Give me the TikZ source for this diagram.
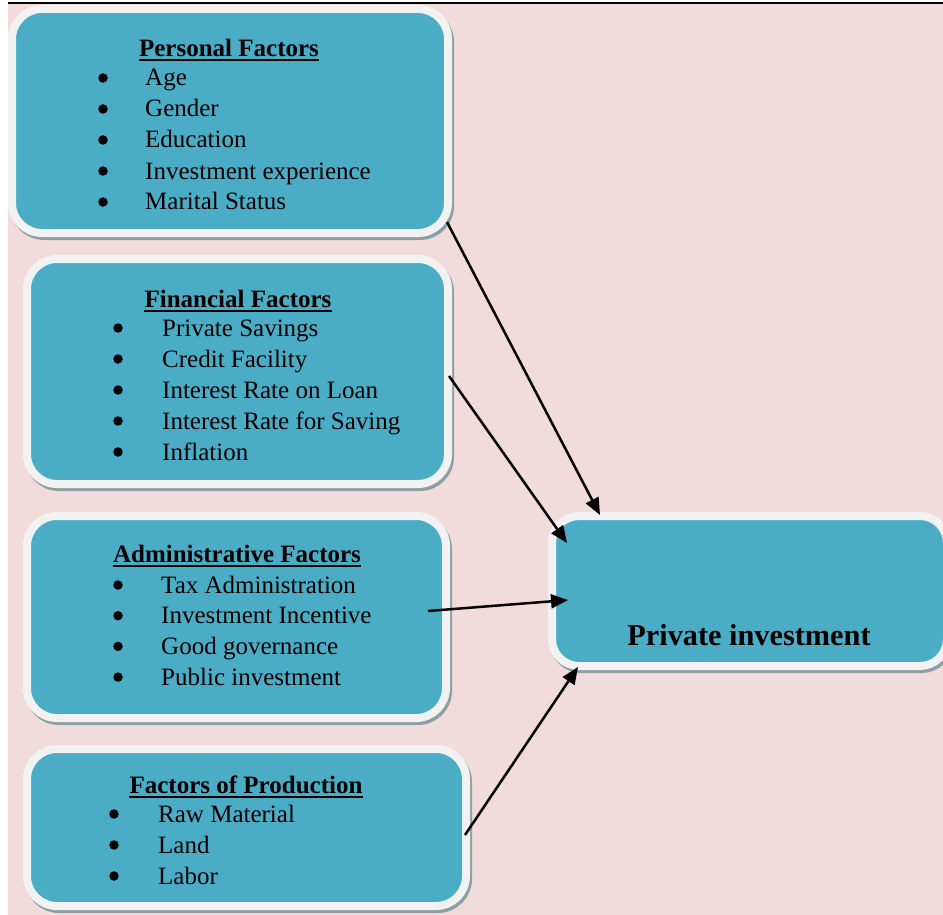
\documentclass[tikz,border=0pt]{standalone}
\usepackage{fontspec}
\setmainfont{Liberation Serif}
\usetikzlibrary{arrows.meta,shadows,calc}
\definecolor{bgpink}{HTML}{F2DCDB}
\definecolor{boxteal}{HTML}{4BACC6}
\definecolor{boxborder}{HTML}{F2F2F2}
\definecolor{shadowgray}{HTML}{8E9EA5}
\begin{document}
\begin{tikzpicture}[x=1pt,y=-1pt,
  factorbox/.style={rectangle, draw=boxborder, fill=boxteal, line width=8pt,
    rounded corners=30pt, inner sep=0pt, outer sep=0pt,
    general shadow={shadow xshift=2pt, shadow yshift=-3pt, draw=shadowgray, fill=shadowgray, line width=8pt}},
  headtxt/.style={anchor=base, inner sep=0pt, font=\fontsize{25}{31}\selectfont\bfseries},
  itemtxt/.style={anchor=base west, inner sep=0pt, font=\fontsize{25}{31}\selectfont},
  bul/.style={circle, fill=black, inner sep=0pt, minimum size=9.5pt},
  uline/.style={line width=2pt},
  conn/.style={line width=2.5pt, -{Triangle[length=17pt,width=14pt]}}
]
\useasboundingbox (0,0) rectangle (943,915);
\fill[bgpink] (8,4) rectangle (943,915);
\draw[line width=2pt] (8,3) -- (943,3);

% boxes
\node[factorbox, minimum width=436pt, minimum height=224pt] (b1) at (230,121) {};
\node[factorbox, minimum width=421pt, minimum height=225pt] (b2) at (237.5,371.5) {};
\node[factorbox, minimum width=419pt, minimum height=202pt] (b3) at (236.5,617) {};
\node[factorbox, minimum width=439pt, minimum height=157pt] (b4) at (246.5,827.5) {};
\node[factorbox, rounded corners=27pt, minimum width=395pt, minimum height=150pt] (tgt) at (749.5,591) {};

% box 1
\node[headtxt] (h1) at (229,57) {Personal Factors};
\draw[uline] ([yshift=-3.5pt]h1.base west) -- ([yshift=-3.5pt]h1.base east);
\foreach \t [count=\i from 0] in {Age,Gender,Education,Investment experience,Marital Status}{
  \node[bul] (b1d\i) at (103,78+31*\i) {};
  \node[itemtxt] (b1t\i) at (145,86+31*\i) {\t};
}
% box 2
\node[headtxt] (h2) at (238,307) {Financial Factors};
\draw[uline] ([yshift=-3.5pt]h2.base west) -- ([yshift=-3.5pt]h2.base east);
\foreach \t [count=\i from 0] in {Private Savings,Credit Facility,Interest Rate on Loan,Interest Rate for Saving,Inflation}{
  \node[bul] (b2d\i) at (118,328+31*\i) {};
  \node[itemtxt] (b2t\i) at (162,336+31*\i) {\t};
}
% box 3
\node[headtxt] (h3) at (237,562) {Administrative Factors};
\draw[uline] ([yshift=-3.5pt]h3.base west) -- ([yshift=-3.5pt]h3.base east);
\foreach \t [count=\i from 0] in {Tax Administration,Investment Incentive,Good governance,Public investment}{
  \node[bul] (b3d\i) at (118,585+30.7*\i) {};
  \node[itemtxt] (b3t\i) at (161,593+30.7*\i) {\t};
}
% box 4
\node[headtxt] (h4) at (246,793) {Factors of Production};
\draw[uline] ([yshift=-3.5pt]h4.base west) -- ([yshift=-3.5pt]h4.base east);
\foreach \t [count=\i from 0] in {Raw Material,Land,Labor}{
  \node[bul] (b4d\i) at (114,814+31*\i) {};
  \node[itemtxt] (b4t\i) at (158,822+31*\i) {\t};
}
% target
\node[anchor=base, inner sep=0pt, font=\fontsize{30.3}{36}\selectfont\bfseries] (tt) at (749,645) {Private investment};

% connectors
\coordinate (s1) at ($(b1.south east)+(-1,-11)$);
\coordinate (e1) at ($(tgt.north west)+(48,-1)$);
\coordinate (s2) at ($(b2.east)+(1,4.5)$);
\coordinate (e2) at ($(tgt.north west)+(15,27)$);
\coordinate (s3) at ($(b3.east)+(-18,-6)$);
\coordinate (e3) at ($(tgt.west)+(16,9)$);
\coordinate (s4) at ($(b4.east)+(-1,7.5)$);
\coordinate (e4) at ($(tgt.south west)+(26,1)$);
\draw[conn] (s1) -- (e1);
\draw[conn] (s2) -- (e2);
\draw[conn] (s3) -- (e3);
\draw[conn] (s4) -- (e4);
\end{tikzpicture}
\end{document}
